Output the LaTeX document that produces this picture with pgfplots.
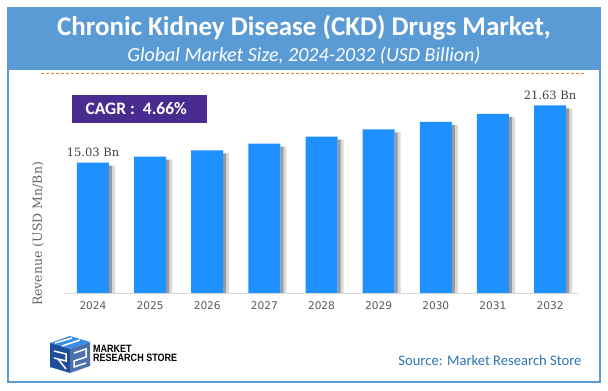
\documentclass[border=0pt]{standalone}
\usepackage{pgfplots}
\pgfplotsset{compat=1.18}
\usepackage{fontspec}
\setmainfont{Carlito}
\newfontfamily\dvs{DejaVu Sans}
\newfontfamily\dvserif{DejaVu Serif}
\newfontfamily\libsans{Liberation Sans}
\definecolor{hdr}{HTML}{5B9BD5}
\definecolor{framecol}{HTML}{5B9BD5}
\definecolor{barblue}{HTML}{1E90FF}
\definecolor{cagr}{HTML}{4A2C91}
\definecolor{dashorange}{HTML}{ED7D31}
\definecolor{src}{HTML}{2E75B6}
\definecolor{logodark}{HTML}{1F4E9A}
\definecolor{logolight}{HTML}{3A8EE6}
\definecolor{txtgray}{HTML}{404040}
\begin{document}
\begin{tikzpicture}[x=1pt,y=1pt]
% canvas
\fill[white] (0,0) rectangle (608,391);
% frame
\draw[framecol, line width=1.2pt] (8,383) rectangle (600,9);
% header
\fill[hdr] (8,383) rectangle (600,321);
\node[white, font=\fontsize{27}{30}\selectfont\bfseries] at (304,363) {Chronic Kidney Disease (CKD) Drugs Market,};
\node[white, font=\fontsize{20}{23}\selectfont\itshape] at (304,335) {Global Market Size, 2024-2032 (USD Billion)};
% dashed line
\draw[dashorange, line width=0.6pt, dash pattern=on 3pt off 2pt] (41,318) -- (585,318);
% CAGR box
\fill[cagr] (72,296) rectangle (207,268);
\node[white, font=\fontsize{17.5}{20}\selectfont\bfseries, anchor=west] at (82,282) {CAGR :\ \ 4.66\%};
% axis
\begin{axis}[
  at={(65pt,98pt)}, anchor=south west,
  scale only axis, width=513pt, height=216.75pt,
  xmin=-0.49, xmax=8.49, ymin=0, ymax=25,
  axis x line=bottom, axis y line=none,
  x axis line style={draw=black!15, line width=0.8pt, -},
  xtick=data, xticklabels={2024,2025,2026,2027,2028,2029,2030,2031,2032},
  major tick length=0pt,
  tick label style={font=\dvs\fontsize{10.6}{12}\selectfont, text=black!65},
  xticklabel style={yshift=-5pt},
  /pgf/number format/assume math mode=true,
  ybar, clip=true,
]
\addplot[ybar, bar width=3.5pt, bar shift=20.25pt, draw=none, fill=black!15, yshift=-3pt]
  coordinates {(0,15.03) (1,15.73) (2,16.46) (3,17.23) (4,18.03) (5,18.87) (6,19.75) (7,20.67) (8,21.63)};
\addplot[ybar, bar width=3pt, bar shift=17.5pt, draw=none, fill=black!40, yshift=-3pt]
  coordinates {(0,15.03) (1,15.73) (2,16.46) (3,17.23) (4,18.03) (5,18.87) (6,19.75) (7,20.67) (8,21.63)};
\addplot[ybar, bar width=32pt, bar shift=0pt, draw=none, fill=barblue]
  coordinates {(0,15.03) (1,15.73) (2,16.46) (3,17.23) (4,18.03) (5,18.87) (6,19.75) (7,20.67) (8,21.63)};
\node[anchor=south, font=\dvserif\fontsize{11.5}{13}\selectfont, text=txtgray, yshift=2pt] at (axis cs:0,15.03) {15.03 Bn};
\node[anchor=south, font=\dvserif\fontsize{11.5}{13}\selectfont, text=txtgray, yshift=2pt] at (axis cs:8,21.63) {21.63 Bn};
\end{axis}
% y label
\node[rotate=90, font=\dvserif\fontsize{12.5}{14}\selectfont, text=black!60] at (38,157) {Revenue (USD Mn/Bn)};
% logo icon
\fill[logolight] (50,48) -- (70,55) -- (90,49) -- (70,42) -- cycle;
\fill[logodark] (50,48) -- (70,42) -- (70,18) -- (50,24) -- cycle;
\fill[logodark!80] (70,42) -- (90,49) -- (90,25) -- (70,18) -- cycle;
\draw[white, line width=1.5pt] (55,48) -- (72,53);
\draw[white, line width=1.5pt] (62,45) -- (80,51);
\draw[white, line width=1.5pt] (74,38) -- (86,42) -- (86,34) -- (74,30) -- (74,24) -- (86,28);
\draw[white, line width=1.5pt] (54,40) -- (66,37) -- (66,30) -- (54,33) (58,32) -- (66,22);
\node[anchor=west, font=\libsans\bfseries\fontsize{10.6}{12}\selectfont, inner sep=0pt] at (93,42) {\scalebox{0.85}[1]{MARKET}};
\node[anchor=west, font=\libsans\bfseries\fontsize{10.6}{12}\selectfont, inner sep=0pt] at (93,33) {\scalebox{0.85}[1]{RESEARCH STORE}};
% source
\node[anchor=east, text=src, font=\fontsize{14.6}{16}\selectfont] at (585,31) {Source: Market Research Store};
\end{tikzpicture}
\end{document}
